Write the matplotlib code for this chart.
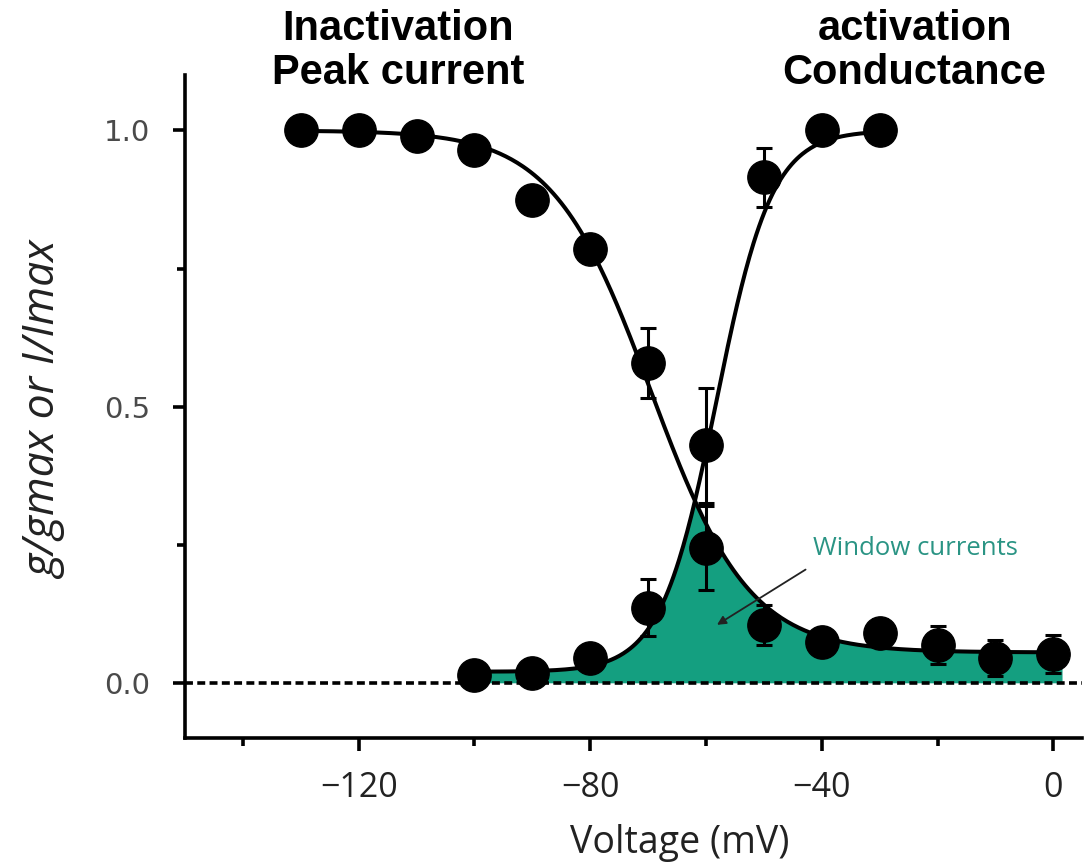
import numpy as np
import matplotlib
matplotlib.use('Agg')
import matplotlib.pyplot as plt
from matplotlib import font_manager
from matplotlib.ticker import FixedLocator

# steady-state inactivation, normalised peak current (mean, s.e.m.)
inact_v = [-130, -120, -110, -100, -90, -80, -70, -60, -50, -40, -30, -20, -10, 0]
inact_y = [1.00, 1.00, 0.99, 0.965, 0.875, 0.785, 0.579, 0.244, 0.105, 0.074, 0.09, 0.068, 0.045, 0.052]
inact_err = [0, 0, 0, 0, 0, 0, 0.063, 0.076, 0.036, 0.02, 0.025, 0.034, 0.033, 0.035]

# activation, normalised conductance (mean, s.e.m.)
act_v = [-100, -90, -80, -70, -60, -50, -40, -30]
act_y = [0.014, 0.018, 0.045, 0.136, 0.43, 0.915, 1.0, 1.0]
act_err = [0, 0, 0, 0.052, 0.104, 0.054, 0.02, 0.02]

# Boltzmann fit parameters
act_vhalf, act_k, act_base = -58.2, 4.8, 0.02
inact_vhalf, inact_k, inact_resid = -69.5, 8.5, 0.055

teal = '#149f80'


def boltz_act(v):
    return act_base + (1 - act_base) / (1 + np.exp((act_vhalf - v) / act_k))


def boltz_inact(v):
    return inact_resid + (1 - inact_resid) / (1 + np.exp((v - inact_vhalf) / inact_k))


installed = {f.name for f in font_manager.fontManager.ttflist}
head_font = 'Liberation Sans Narrow' if 'Liberation Sans Narrow' in installed else 'Liberation Sans'

fig = plt.figure(figsize=(10.85, 8.63), dpi=100)
ax = fig.add_axes([0.1705, 0.1448, 0.827, 0.768])

# fitted curves
v_inact = np.linspace(-130, 2, 400)
v_act = np.linspace(-100, -30, 300)
ax.plot(v_inact, boltz_inact(v_inact), color='black', lw=2.9, zorder=3)
ax.plot(v_act, boltz_act(v_act), color='black', lw=2.9, zorder=3)

# window current: overlap of the two curves
v_win = np.linspace(-101, 1.5, 500)
win = np.minimum(boltz_act(v_win), boltz_inact(v_win))
ax.fill_between(v_win, 0, win, color=teal, lw=0, zorder=1)

ax.axhline(0, color='black', lw=2.6, ls=(0, (2.2, 1.2)), zorder=2)

# data points with error bars
for v, y, e in [(inact_v, inact_y, inact_err), (act_v, act_y, act_err)]:
    ax.errorbar(v, y, yerr=e, fmt='none', ecolor='black', elinewidth=2.2,
                capsize=6, capthick=2.2, zorder=3)
    ax.plot(v, y, 'o', color='black', ms=24, zorder=4)

ax.text(-41.6, 0.244, 'Window currents', color='#2a9484', fontsize=18.5,
        family='Open Sans', ha='left', va='center')
ax.annotate('', xy=(-58.1, 0.105), xytext=(-42.8, 0.205),
            arrowprops=dict(arrowstyle='-|>', color='#222222', lw=1.3,
                            mutation_scale=13, shrinkA=0, shrinkB=0))

ax.set_xlim(-150, 5)
ax.set_ylim(-0.1, 1.1)
ax.xaxis.set_major_locator(FixedLocator([-120, -80, -40, 0]))
ax.xaxis.set_minor_locator(FixedLocator([-140, -100, -60, -20]))
ax.yaxis.set_major_locator(FixedLocator([0, 0.5, 1.0]))
ax.yaxis.set_minor_locator(FixedLocator([0.25, 0.75]))
ax.set_yticklabels(['0.0', '0.5', '1.0'])

for side in ['top', 'right']:
    ax.spines[side].set_visible(False)
for side in ['left', 'bottom']:
    ax.spines[side].set_linewidth(2.6)

ax.tick_params(which='major', direction='out', length=9, width=2.6)
ax.tick_params(which='minor', direction='out', length=6, width=2.6)
ax.tick_params(axis='x', which='major', pad=15)
ax.tick_params(axis='y', which='major', pad=16)
for lab in ax.get_xticklabels():
    lab.set_fontfamily('Open Sans')
    lab.set_fontsize(24.5)
    lab.set_color('#222222')
for lab in ax.get_yticklabels():
    lab.set_fontfamily('DejaVu Sans')
    lab.set_fontsize(21)
    lab.set_color('#4a4a4a')

ax.set_xlabel('Voltage (mV)', fontsize=27, family='Open Sans', color='#222222')
ax.xaxis.set_label_coords(0.551, -0.13)
ax.set_ylabel('g/gmax or I/Imax', fontsize=32, family='Open Sans', style='italic',
              color='#222222')
ax.yaxis.label.set_va('center')
ax.yaxis.set_label_coords(-0.156, 0.495)

fig.text(0.367, 0.941, 'Inactivation\nPeak current', ha='center', va='center',
         fontsize=30, fontweight='bold', family=head_font, linespacing=1.12)
fig.text(0.843, 0.941, 'activation\nConductance', ha='center', va='center',
         fontsize=30, fontweight='bold', family=head_font, linespacing=1.12)

fig.savefig('out.png', dpi=100)
